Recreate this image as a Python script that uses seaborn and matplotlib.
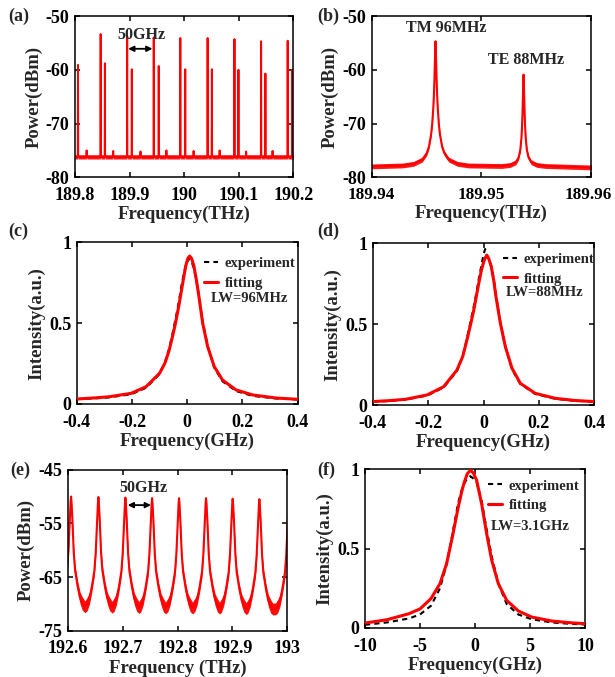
import numpy as np
import pandas as pd
import matplotlib
matplotlib.use("Agg")
import matplotlib.pyplot as plt
import matplotlib.transforms as mtransforms
from matplotlib.lines import Line2D
import seaborn as sns

# ---------------- data ----------------
# (a) comb spectrum: main lines, side lines, small bumps (THz, dBm)
a_main_freq = [189.847, 189.8956, 189.9443, 189.993, 190.043, 190.0922, 190.141, 190.1897]
a_main_top = [-53.35, -53.8, -54.0, -54.1, -54.1, -54.3, -54.7, -54.6]
a_side_freq = [189.8055, 189.8548, 189.9041, 189.9534, 190.002, 190.0508, 190.0995, 190.1489, 190.1982]
a_side_top = [-59.1, -58.8, -59.9, -59.3, -59.9, -59.9, -60.0, -60.7, -60.0]
a_bump_freq = [189.8213, 189.870, 189.920, 189.9675, 190.0173, 190.065, 190.1136, 190.162]
a_bump_top = [-75.0, -75.1, -75.2, -75.0, -75.1, -75.0, -75.2, -75.1]
a_floor = -76.2
a_noise = 0.4

# (b) TM / TE resonances (offset GHz from centre, dBm)
b_floor_left = -78.0
b_floor_right = -78.2
b_tm_center = 189.94582
b_tm_off = [-3.0, -2.0, -1.2, -0.8, -0.6, -0.4, -0.3, -0.2, -0.15, -0.1, -0.05, 0.0,
            0.05, 0.1, 0.15, 0.2, 0.3, 0.4, 0.6, 0.8, 1.2, 2.0, 3.0]
b_tm_db = [-77.8, -77.5, -76.7, -75.5, -74.3, -72.0, -70.0, -67.0, -64.8, -61.9, -57.9, -54.7,
           -57.9, -61.9, -64.8, -67.0, -70.0, -72.0, -74.3, -75.5, -76.7, -77.5, -77.8]
b_te_center = 189.95385
b_te_off = [-2.0, -1.2, -0.7, -0.45, -0.3, -0.2, -0.15, -0.1, -0.05, 0.0,
            0.05, 0.1, 0.15, 0.2, 0.3, 0.45, 0.7, 1.2, 2.0]
b_te_db = [-77.9, -77.7, -77.2, -76.3, -74.9, -72.8, -71.0, -68.4, -64.4, -60.9,
           -64.4, -68.4, -71.0, -72.8, -74.9, -76.3, -77.2, -77.7, -77.9]
b_noise = 0.45

# (c) TM line shape
c_freq = [-0.4, -0.34, -0.282, -0.203, -0.149, -0.1, -0.08, -0.065, -0.05, -0.04, -0.03, -0.022,
          -0.013, -0.005, 0.002, 0.009, 0.016, 0.024, 0.033, 0.042, 0.056, 0.074, 0.098, 0.128,
          0.177, 0.237, 0.322, 0.4]
c_exp = [0.03, 0.034, 0.041, 0.06, 0.1, 0.185, 0.26, 0.345, 0.46, 0.545, 0.635, 0.72,
         0.8, 0.86, 0.885, 0.9, 0.88, 0.84, 0.765, 0.675, 0.51, 0.36, 0.225, 0.14,
         0.08, 0.05, 0.034, 0.028]
c_fit = [0.031, 0.037, 0.045, 0.066, 0.107, 0.19, 0.255, 0.334, 0.44, 0.52, 0.61, 0.69,
         0.78, 0.855, 0.9, 0.915, 0.9, 0.855, 0.77, 0.67, 0.5, 0.355, 0.231, 0.148,
         0.087, 0.056, 0.037, 0.029]

# (d) TE line shape
d_freq = [-0.4, -0.34, -0.282, -0.204, -0.144, -0.096, -0.075, -0.06, -0.045, -0.035, -0.025, -0.017,
          -0.008, 0.0, 0.006, 0.0126, 0.019, 0.028, 0.037, 0.045, 0.061, 0.079, 0.103, 0.133,
          0.187, 0.26, 0.33, 0.4]
d_exp = [0.02, 0.025, 0.033, 0.058, 0.108, 0.21, 0.3, 0.41, 0.53, 0.61, 0.7, 0.78,
         0.86, 0.93, 0.965, 0.92, 0.9, 0.86, 0.78, 0.68, 0.51, 0.36, 0.22, 0.13,
         0.068, 0.038, 0.026, 0.02]
d_fit = [0.021, 0.027, 0.035, 0.062, 0.113, 0.216, 0.3, 0.4, 0.51, 0.588, 0.68, 0.753,
         0.83, 0.88, 0.91, 0.925, 0.905, 0.856, 0.77, 0.67, 0.505, 0.36, 0.227, 0.134,
         0.072, 0.041, 0.028, 0.021]

# (e) second comb: peaks and one-period profile (offset GHz, dB below peak, noise half band dB)
e_peak_freq = [192.6061, 192.6559, 192.7051, 192.7537, 192.8028, 192.852, 192.9005, 192.9491, 193.003]
e_peak_db = [-50.0, -50.1, -50.2, -50.3, -50.3, -50.3, -50.4, -50.5, -50.5]
e_prof_off = [-24.5, -20.6, -16.4, -12.1, -7.3, -4.9, -3.6, -2.4, -1.6, -0.8, 0.0,
              0.8, 1.6, 2.4, 3.6, 4.9, 7.3, 12.1, 16.4, 20.6, 24.5]
e_prof_rel = [-20.45, -19.95, -18.9, -16.8, -13.7, -10.4, -7.3, -4.2, -2.5, -1.0, 0.0,
              -1.0, -2.5, -4.2, -7.3, -10.4, -13.7, -16.8, -18.9, -19.95, -20.45]
e_prof_noise = [1.1, 1.25, 1.1, 1.0, 0.95, 0.8, 0.7, 0.55, 0.35, 0.2, 0.1,
                0.2, 0.35, 0.55, 0.7, 0.8, 0.95, 1.0, 1.1, 1.25, 1.1]

# (f) line shape
f_freq = [-10, -8, -6, -5, -4, -3.18, -2.58, -2.06, -1.52, -1.2, -0.97, -0.7, -0.42, -0.15, 0.15,
          0.6, 1.06, 1.52, 2.12, 2.88, 3.94, 5.15, 6.97, 8.5, 10]
f_exp = [0.02, 0.035, 0.06, 0.085, 0.14, 0.25, 0.4, 0.59, 0.79, 0.87, 0.91, 0.94, 0.955, 0.94, 0.915,
         0.8, 0.62, 0.45, 0.28, 0.15, 0.085, 0.055, 0.035, 0.027, 0.022]
f_fit = [0.031, 0.052, 0.09, 0.12, 0.185, 0.28, 0.405, 0.572, 0.761, 0.86, 0.918, 0.97, 0.992, 0.975,
         0.929, 0.782, 0.593, 0.426, 0.279, 0.174, 0.107, 0.069, 0.044, 0.034, 0.027]

# tick labels
a_xticks = [189.8, 189.9, 190.0, 190.1, 190.2]
a_xlabels = ["189.8", "189.9", "190", "190.1", "190.2"]
ab_yticks = [-80, -70, -60, -50]
ab_ylabels = ["-80", "-70", "-60", "-50"]
b_xticks = [189.94, 189.95, 189.96]
b_xlabels = ["189.94", "189.95", "189.96"]
cd_xticks = [-0.4, -0.2, 0.0, 0.2, 0.4]
cd_xlabels = ["-0.4", "-0.2", "0", "0.2", "0.4"]
int_yticks = [0, 0.5, 1]
int_ylabels = ["0", "0.5", "1"]
e_xticks = [192.6, 192.7, 192.8, 192.9, 193.0]
e_xlabels = ["192.6", "192.7", "192.8", "192.9", "193"]
e_yticks = [-75, -65, -55, -45]
e_ylabels = ["-75", "-65", "-55", "-45"]
f_xticks = [-10, -5, 0, 5, 10]
f_xlabels = ["-10", "-5", "0", "5", "10"]

# ---------------- style ----------------
sns.set_theme(style="ticks")
FONT = ["Liberation Serif", "DejaVu Serif"]
plt.rcParams.update({
    "font.family": FONT,
    "font.weight": "bold",
    "axes.labelweight": "bold",
    "axes.unicode_minus": False,
    "axes.edgecolor": "black",
    "axes.linewidth": 1.1,
    "xtick.direction": "in",
    "ytick.direction": "in",
    "xtick.top": True,
    "ytick.right": True,
    "xtick.major.size": 3.5,
    "ytick.major.size": 3.5,
    "xtick.major.width": 1.1,
    "ytick.major.width": 1.1,
    "xtick.major.pad": 7,
    "ytick.major.pad": 4,
    "xtick.labelsize": 13,
    "ytick.labelsize": 13,
    "axes.labelsize": 13.5,
    "xtick.color": "black",
    "ytick.color": "black",
})
RED = "#ff0000"

W, H = 615, 677
fig = plt.figure(figsize=(W / 100, H / 100), dpi=100)


def add_ax(left, right, top, bottom):
    return fig.add_axes([left / W, 1 - bottom / H, (right - left) / W, (bottom - top) / H])


ax_a = add_ax(75, 293.3, 16, 177.3)
ax_b = add_ax(371.7, 591, 16, 177.3)
ax_c = add_ax(76.7, 297.7, 242.3, 404)
ax_d = add_ax(372.7, 594.3, 243.3, 405)
ax_e = add_ax(67.7, 287.3, 469.7, 630.7)
ax_f = add_ax(365, 585, 469, 628)


def style_axes(ax, xlim, ylim, xt, xl, yt, yl, xlabel, ylabel, xsize=13):
    ax.set_xlim(*xlim)
    ax.set_ylim(*ylim)
    ax.set_xticks(xt)
    ax.set_xticklabels(xl, fontweight="bold", fontsize=xsize)
    ax.set_yticks(yt)
    ax.set_yticklabels(yl, fontweight="bold")
    ax.set_xlabel(xlabel, fontweight="bold", labelpad=1.5)
    ax.set_ylabel(ylabel, fontweight="bold", labelpad=2.5)
    ax.minorticks_off()
    for s in ax.spines.values():
        s.set_visible(True)
        s.set_color("black")


# ---------------- (a) ----------------
feats = sorted(list(zip(a_main_freq, a_main_top)) + list(zip(a_side_freq, a_side_top))
               + list(zip(a_bump_freq, a_bump_top)))
ax_x, ax_y = [189.79], [a_floor]
for f, t in feats:
    ax_x += [f - 0.0004, f, f + 0.0004]
    ax_y += [a_floor, t, a_floor]
ax_x.append(190.21)
ax_y.append(a_floor)
df_a = pd.DataFrame({"f": ax_x, "p": ax_y})
ax_a.fill_between(df_a["f"], df_a["p"] - a_noise, df_a["p"] + a_noise, color=RED, lw=0, alpha=0.9)
sns.lineplot(data=df_a, x="f", y="p", ax=ax_a, sort=False, estimator=None, color=RED, lw=1.4)
style_axes(ax_a, (189.8, 190.2), (-80, -50), a_xticks, a_xlabels, ab_yticks, ab_ylabels,
           "Frequency(THz)", "Power(dBm)")
ax_a.annotate("", xy=(189.9420, -56.1), xytext=(189.8974, -56.1),
              arrowprops=dict(arrowstyle="<|-|>", color="black", lw=1.3, mutation_scale=8,
                              shrinkA=0, shrinkB=0))
ax_a.text(189.9218, -53.5, "50GHz", ha="center", va="center", fontsize=11.5, fontweight="bold")

# ---------------- (b) ----------------
bx = ([189.9395] + [b_tm_center + o / 1000 for o in b_tm_off]
      + [b_te_center + o / 1000 for o in b_te_off] + [189.9605])
by = [b_floor_left] + b_tm_db + b_te_db + [b_floor_right]
df_b = pd.DataFrame({"f": bx, "p": by})
ax_b.fill_between(df_b["f"], df_b["p"] - b_noise, df_b["p"] + b_noise, color=RED, lw=0, alpha=0.9)
sns.lineplot(data=df_b, x="f", y="p", ax=ax_b, sort=False, estimator=None, color=RED, lw=1.5)
style_axes(ax_b, (189.94, 189.96), (-80, -50), b_xticks, b_xlabels, ab_yticks, ab_ylabels,
           "Frequency(THz)", "Power(dBm)", xsize=12.3)
last = ax_b.get_xticklabels()[-1]
last.set_transform(last.get_transform() + mtransforms.ScaledTranslation(-3 / 100, 0, fig.dpi_scale_trans))
ax_b.text(189.9468, -52.3, "TM 96MHz", ha="center", va="center", fontsize=11.5, fontweight="bold")
ax_b.text(189.95404, -58.2, "TE 88MHz", ha="center", va="center", fontsize=11.5, fontweight="bold")


# ---------------- line-shape panels ----------------
def lineshape(ax, freq, exp, fit, xlim, xt, xl, leg_anchor, lw_text, lw_pos):
    df = pd.DataFrame({"f": freq, "exp": exp, "fit": fit})
    sns.lineplot(data=df, x="f", y="exp", ax=ax, sort=False, estimator=None, color="black",
                 lw=1.5, zorder=2)
    ax.lines[-1].set_dashes([2.5, 2.0])
    sns.lineplot(data=df, x="f", y="fit", ax=ax, sort=False, estimator=None, color=RED,
                 lw=2.2, zorder=3)
    style_axes(ax, xlim, (0, 1), xt, xl, int_yticks, int_ylabels,
               "Frequency(GHz)", "Intensity(a.u.)")
    handles = [Line2D([], [], color="black", lw=1.5, dashes=[2.5, 2.0]),
               Line2D([], [], color=RED, lw=2.2)]
    ax.legend(handles, ["experiment", "fitting"], loc="upper left", bbox_to_anchor=leg_anchor,
              frameon=False, borderpad=0, borderaxespad=0, handlelength=0.95, handletextpad=0.45,
              labelspacing=0.42, prop=dict(family=FONT, weight="bold", size=10.5))
    ax.text(lw_pos[0], lw_pos[1], lw_text, transform=ax.transAxes, ha="center", va="center",
            fontsize=10.5, fontweight="bold")


lineshape(ax_c, c_freq, c_exp, c_fit, (-0.4, 0.4), cd_xticks, cd_xlabels,
          (0.576, 0.908), "LW=96MHz", (0.781, 0.652))
lineshape(ax_d, d_freq, d_exp, d_fit, (-0.4, 0.4), cd_xticks, cd_xlabels,
          (0.588, 0.94), "LW=88MHz", (0.775, 0.695))
lineshape(ax_f, f_freq, f_exp, f_fit, (-10, 10), f_xticks, f_xlabels,
          (0.559, 0.935), "LW=3.1GHz", (0.752, 0.637))

# ---------------- (e) ----------------
ex, ey, en = [], [], []
for pf, pd_ in zip(e_peak_freq, e_peak_db):
    for o, r, n in zip(e_prof_off, e_prof_rel, e_prof_noise):
        ex.append(pf + o / 1000)
        ey.append(pd_ + r)
        en.append(n)
df_e = pd.DataFrame({"f": ex, "p": ey, "n": en})
ax_e.fill_between(df_e["f"], df_e["p"] - df_e["n"], df_e["p"] + df_e["n"], color=RED, lw=0, alpha=0.95)
sns.lineplot(data=df_e, x="f", y="p", ax=ax_e, sort=False, estimator=None, color=RED, lw=1.5)
style_axes(ax_e, (192.6, 193.0), (-75, -45), e_xticks, e_xlabels, e_yticks, e_ylabels,
           "Frequency (THz)", "Power(dBm)")
ax_e.annotate("", xy=(192.7517, -51.6), xytext=(192.7093, -51.6),
              arrowprops=dict(arrowstyle="<|-|>", color="black", lw=1.3, mutation_scale=8,
                              shrinkA=0, shrinkB=0))
ax_e.text(192.7377, -48.5, "50GHz", ha="center", va="center", fontsize=11.5, fontweight="bold")

# ---------------- panel labels ----------------
for lab, (px, py) in zip(["(a)", "(b)", "(c)", "(d)", "(e)", "(f)"],
                         [(19, 16), (328, 16), (18, 231.7), (328, 231.7), (20, 470), (326.7, 470)]):
    fig.text(px / W, 1 - py / H, lab, ha="center", va="center", fontsize=13, fontweight="bold")

fig.savefig("out.png", dpi=100)
